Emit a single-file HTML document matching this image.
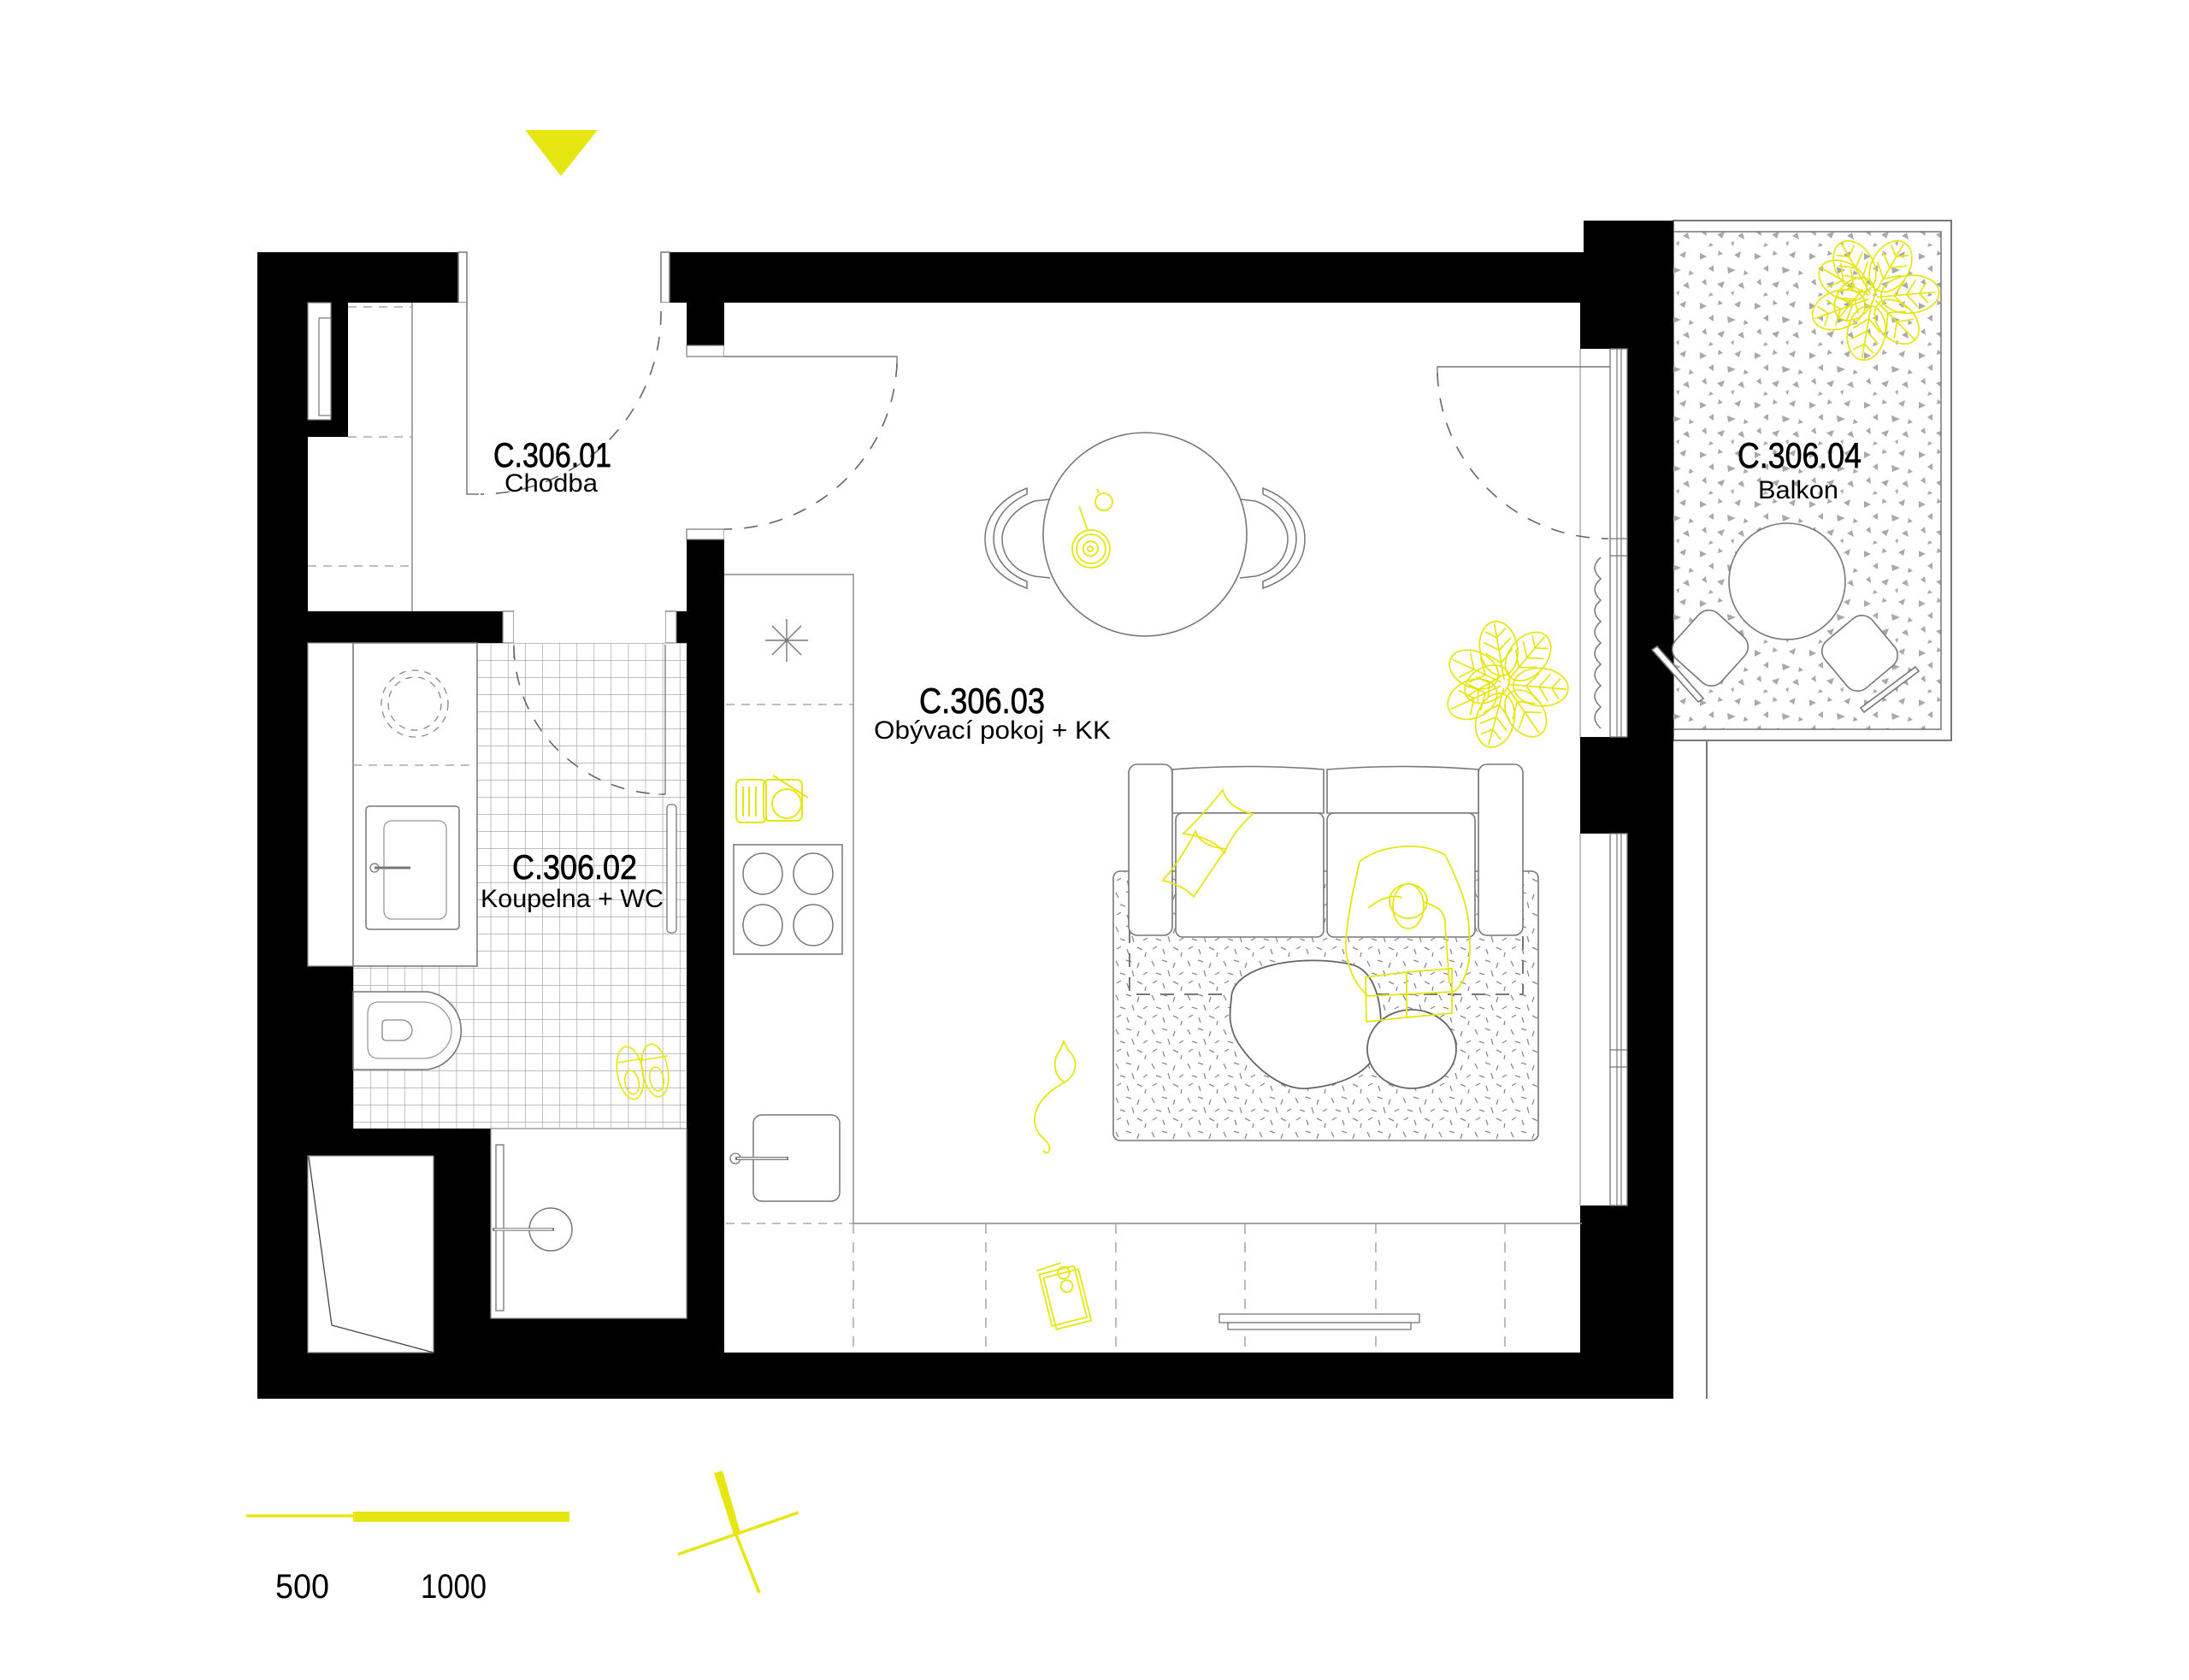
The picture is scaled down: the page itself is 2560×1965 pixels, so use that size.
<!DOCTYPE html>
<html><head><meta charset="utf-8"><style>
html,body{margin:0;padding:0;background:#fff;}
svg{display:block;}
text{font-family:"Liberation Sans",Arial,sans-serif;fill:#000;}
</style></head><body>
<svg width="2560" height="1965" viewBox="0 0 2560 1965" xmlns="http://www.w3.org/2000/svg">
<defs>
<pattern id="tri" x="0" y="0" width="64" height="58" patternUnits="userSpaceOnUse">
<g fill="#a9a9a9">
<polygon points="4,6 12,10 4,14"/><polygon points="26,3 31,7 25,9"/><polygon points="44,8 52,4 50,12"/>
<polygon points="14,24 20,20 20,28"/><polygon points="36,22 46,26 37,30"/><polygon points="56,26 61,30 55,32"/>
<polygon points="6,40 11,36 12,44"/><polygon points="24,42 33,39 30,47"/><polygon points="48,44 54,40 56,48"/>
<polygon points="40,52 44,50 43,56"/><polygon points="16,52 20,55 14,57"/>
</g></pattern>
<pattern id="dash" x="0" y="0" width="42" height="40" patternUnits="userSpaceOnUse">
<g stroke="#8a8a8a" stroke-width="1.3">
<line x1="3" y1="4" x2="6" y2="10"/><line x1="15" y1="3" x2="21" y2="5"/><line x1="30" y1="6" x2="28" y2="12"/>
<line x1="8" y1="18" x2="14" y2="20"/><line x1="22" y1="15" x2="24" y2="22"/><line x1="35" y1="20" x2="40" y2="17"/>
<line x1="4" y1="30" x2="9" y2="27"/><line x1="16" y1="30" x2="18" y2="36"/><line x1="28" y1="28" x2="34" y2="31"/>
<line x1="38" y1="34" x2="37" y2="39"/>
</g></pattern>
<pattern id="tile" x="413" y="752" width="20.1" height="20" patternUnits="userSpaceOnUse">
<rect width="20.1" height="20" fill="#fff"/>
<path d="M0,0 V20 M0,0 H20.1" stroke="#9a9a9a" stroke-width="1.2" fill="none"/>
</pattern>
</defs>

<polygon points="614,152 699,152 656,206" fill="#e6e612"/>

<rect x="1957" y="258" width="325" height="608" fill="#fff" stroke="#777" stroke-width="2"/>
<rect x="1903" y="271" width="367" height="582" fill="url(#tri)" stroke="#777" stroke-width="1.5"/>
<line x1="1996" y1="866" x2="1996" y2="1636" stroke="#777" stroke-width="2"/>

<rect x="301" y="295" width="1656" height="1341" fill="#000"/>
<rect x="1852" y="258" width="105" height="120" fill="#000"/>

<rect x="546" y="290" width="227" height="66" fill="#fff"/>
<rect x="536" y="295" width="10" height="59" fill="#fff" stroke="#777" stroke-width="1.5"/>
<rect x="773" y="295" width="10" height="59" fill="#fff" stroke="#777" stroke-width="1.5"/>

<rect x="360" y="354" width="443" height="361" fill="#fff"/>
<rect x="800" y="417" width="50" height="202" fill="#fff"/>
<rect x="360" y="354" width="47" height="157" fill="#000"/>
<rect x="360" y="354" width="27" height="137" fill="#fff" stroke="#777" stroke-width="1.2"/>
<rect x="373" y="372" width="14" height="114" fill="#fff" stroke="#777" stroke-width="1.2"/>
<rect x="803" y="354" width="44" height="50" fill="#000"/>
<rect x="803" y="404" width="44" height="13" fill="#fff" stroke="#777" stroke-width="1.2"/>
<rect x="803" y="619" width="44" height="12" fill="#fff" stroke="#777" stroke-width="1.2"/>
<line x1="482" y1="354" x2="482" y2="715" stroke="#888" stroke-width="1.5"/>
<g stroke="#999" stroke-width="1.3" stroke-dasharray="10 8">
<line x1="407" y1="359" x2="482" y2="359"/><line x1="407" y1="511" x2="482" y2="511"/><line x1="360" y1="662" x2="482" y2="662"/>
</g>
<polyline points="546,354 546,578 560,578" fill="none" stroke="#777" stroke-width="1.5"/>
<path d="M773,364 A212,212 0 0 1 562,578" fill="none" stroke="#666" stroke-width="1.6" stroke-dasharray="16 14"/>

<rect x="360" y="715" width="228" height="37" fill="#000"/>
<rect x="588" y="715" width="13" height="37" fill="#fff" stroke="#777" stroke-width="1.2"/>
<rect x="778" y="715" width="13" height="37" fill="#fff" stroke="#777" stroke-width="1.2"/>
<rect x="601" y="715" width="177" height="37" fill="#fff"/>

<rect x="413" y="752" width="390" height="568" fill="url(#tile)"/>
<rect x="360" y="752" width="53" height="378" fill="#fff" stroke="#888" stroke-width="1.2"/>
<rect x="413" y="752" width="145" height="378" fill="#fff" stroke="#777" stroke-width="1.5"/>
<circle cx="485" cy="823" r="39" fill="none" stroke="#888" stroke-width="1.3" stroke-dasharray="8 7"/>
<circle cx="485" cy="823" r="31" fill="none" stroke="#888" stroke-width="1.3" stroke-dasharray="8 7"/>
<line x1="413" y1="895" x2="558" y2="895" stroke="#999" stroke-width="1.3" stroke-dasharray="10 8"/>
<rect x="428" y="943" width="109" height="144" rx="4" fill="#fff" stroke="#777" stroke-width="1.5"/>
<rect x="449" y="960" width="73" height="115" rx="9" fill="#fff" stroke="#999" stroke-width="1.3"/>
<circle cx="438" cy="1015" r="5" fill="none" stroke="#777" stroke-width="1.3"/>
<line x1="438" y1="1015" x2="480" y2="1015" stroke="#777" stroke-width="3"/>
<path d="M413,1160 H500 A46,46 0 0 1 500,1251 H413 Z" fill="#fff" stroke="#777" stroke-width="1.6"/>
<path d="M443,1172 H495 A33,33 0 0 1 495,1238 H443 Q430,1238 430,1224 V1186 Q430,1172 443,1172 Z" fill="none" stroke="#999" stroke-width="1.3"/>
<path d="M452,1193 H470 A12,12 0 0 1 470,1217 H452 Q447,1217 447,1212 V1198 Q447,1193 452,1193 Z" fill="none" stroke="#888" stroke-width="1.3"/>
<line x1="601" y1="754" x2="601" y2="770" stroke="#777" stroke-width="1.3"/>
<path d="M601,756 A177,175 0 0 0 778,929" fill="none" stroke="#666" stroke-width="1.6" stroke-dasharray="16 14"/>
<polyline points="770,929 778,929 778,754" fill="none" stroke="#777" stroke-width="1.3"/>
<rect x="780" y="941" width="11" height="150" rx="4" fill="#fff" stroke="#777" stroke-width="1.3"/>
<g fill="none" stroke="#e6e612" stroke-width="1.6">
<ellipse cx="737" cy="1255" rx="15" ry="31" transform="rotate(-10 737 1255)"/>
<ellipse cx="766" cy="1252" rx="15" ry="31" transform="rotate(-10 766 1252)"/>
<ellipse cx="739" cy="1266" rx="8" ry="14" transform="rotate(-10 739 1266)"/>
<ellipse cx="768" cy="1262" rx="8" ry="14" transform="rotate(-10 768 1262)"/>
<line x1="722" y1="1243" x2="752" y2="1238"/><line x1="751" y1="1240" x2="781" y2="1235"/>
</g>

<rect x="360" y="1352" width="147" height="230" fill="#fff" stroke="#888" stroke-width="1.2"/>
<polyline points="361,1353 388,1550 507,1582" fill="none" stroke="#444" stroke-width="1.3"/>
<rect x="574" y="1320" width="229" height="222" fill="#fff" stroke="#888" stroke-width="1.2"/>
<rect x="580" y="1339" width="9" height="194" fill="#fff" stroke="#777" stroke-width="1.3"/>
<circle cx="644" cy="1438" r="25" fill="#fff" stroke="#777" stroke-width="1.5"/>
<line x1="576" y1="1438" x2="648" y2="1438" stroke="#777" stroke-width="3.5"/>
<line x1="578" y1="1438" x2="646" y2="1438" stroke="#fff" stroke-width="1.5"/>

<rect x="847" y="354" width="1001" height="1228" fill="#fff"/>
<rect x="1848" y="408" width="35" height="454" fill="#fff"/>
<rect x="1848" y="975" width="35" height="435" fill="#fff"/>
<rect x="1883" y="408" width="20" height="454" fill="#fff" stroke="#777" stroke-width="1.3"/>
<line x1="1891" y1="408" x2="1891" y2="862" stroke="#777" stroke-width="1.2"/>
<line x1="1896" y1="408" x2="1896" y2="862" stroke="#777" stroke-width="1.2"/>
<line x1="1883" y1="630" x2="1903" y2="630" stroke="#777" stroke-width="1.2"/>
<line x1="1883" y1="650" x2="1903" y2="650" stroke="#777" stroke-width="1.2"/>
<rect x="1883" y="975" width="20" height="435" fill="#fff" stroke="#777" stroke-width="1.3"/>
<line x1="1891" y1="975" x2="1891" y2="1410" stroke="#777" stroke-width="1.2"/>
<line x1="1896" y1="975" x2="1896" y2="1410" stroke="#777" stroke-width="1.2"/>
<line x1="1883" y1="1228" x2="1903" y2="1228" stroke="#777" stroke-width="1.2"/>
<line x1="1883" y1="1248" x2="1903" y2="1248" stroke="#777" stroke-width="1.2"/>
<line x1="1848" y1="408" x2="1848" y2="862" stroke="#999" stroke-width="1.2"/>
<line x1="1848" y1="975" x2="1848" y2="1410" stroke="#999" stroke-width="1.2"/>

<polyline points="847,417 1049,417 1049,430" fill="none" stroke="#777" stroke-width="1.4"/>
<path d="M1049,425 A202,202 0 0 1 847,619" fill="none" stroke="#666" stroke-width="1.6" stroke-dasharray="16 14"/>
<polyline points="1681,440 1681,429 1883,429" fill="none" stroke="#777" stroke-width="1.4"/>
<path d="M1681,436 A200,200 0 0 0 1881,630" fill="none" stroke="#666" stroke-width="1.6" stroke-dasharray="16 14"/>
<path d="M1872,652 q-14,12 0,25 q-14,12 0,25 q-14,12 0,25 q-14,12 0,25 q-14,12 0,25 q-14,12 0,25 q-14,12 0,25 q-14,12 0,25" fill="none" stroke="#777" stroke-width="1.5"/>

<polyline points="847,672 998,672 998,1431" fill="none" stroke="#888" stroke-width="1.4"/>
<line x1="849" y1="824" x2="998" y2="824" stroke="#999" stroke-width="1.3" stroke-dasharray="10 8"/>
<g stroke="#777" stroke-width="1.4">
<line x1="895" y1="749" x2="945" y2="749"/><line x1="920" y1="724" x2="920" y2="774"/>
<line x1="903" y1="732" x2="937" y2="766"/><line x1="937" y1="732" x2="903" y2="766"/>
</g>
<rect x="858" y="988" width="127" height="128" fill="#fff" stroke="#777" stroke-width="1.5"/>
<g fill="none" stroke="#777" stroke-width="1.5">
<ellipse cx="892" cy="1022" rx="23" ry="24"/><ellipse cx="951" cy="1022" rx="23" ry="24"/>
<ellipse cx="892" cy="1082" rx="23" ry="24"/><ellipse cx="951" cy="1082" rx="23" ry="24"/>
</g>
<rect x="881" y="1304" width="101" height="101" rx="10" fill="#fff" stroke="#777" stroke-width="1.5"/>
<circle cx="860" cy="1355" r="6" fill="#fff" stroke="#777" stroke-width="1.3"/>
<line x1="860" y1="1355" x2="922" y2="1355" stroke="#777" stroke-width="4"/>
<line x1="862" y1="1355" x2="920" y2="1355" stroke="#fff" stroke-width="1.6"/>
<g fill="none" stroke="#e6e612" stroke-width="2">
<rect x="861" y="912" width="35" height="50" rx="6"/>
<line x1="869" y1="920" x2="869" y2="955"/><line x1="876" y1="920" x2="876" y2="955"/><line x1="884" y1="920" x2="884" y2="955"/>
<rect x="893" y="912" width="45" height="48" rx="6"/>
<circle cx="920" cy="940" r="17"/>
<line x1="904" y1="907" x2="945" y2="933"/>
</g>

<line x1="998" y1="1431" x2="1850" y2="1431" stroke="#888" stroke-width="1.4"/>
<line x1="849" y1="1431" x2="998" y2="1431" stroke="#999" stroke-width="1.3" stroke-dasharray="10 8"/>
<g stroke="#999" stroke-width="1.3" stroke-dasharray="12 10">
<line x1="998" y1="1431" x2="998" y2="1582"/><line x1="1153" y1="1431" x2="1153" y2="1582"/>
<line x1="1305" y1="1431" x2="1305" y2="1582"/><line x1="1456" y1="1431" x2="1456" y2="1582"/>
<line x1="1609" y1="1431" x2="1609" y2="1582"/><line x1="1760" y1="1431" x2="1760" y2="1582"/>
</g>
<rect x="1426" y="1537" width="234" height="10" fill="#fff" stroke="#777" stroke-width="1.3"/>
<rect x="1436" y="1547" width="214" height="8" fill="#fff" stroke="#777" stroke-width="1.3"/>
<g fill="none" stroke="#e6e612" stroke-width="1.8" transform="rotate(-14 1242 1515)">
<rect x="1222" y="1485" width="42" height="62"/><rect x="1226" y="1490" width="42" height="62"/>
<circle cx="1250" cy="1490" r="7"/><circle cx="1250" cy="1506" r="7"/><line x1="1220" y1="1480" x2="1250" y2="1478"/>
</g>

<g fill="#fff" stroke="#777" stroke-width="1.5">
<path d="M1201,571 C1165,585 1152,610 1152,630 C1152,655 1165,675 1201,688 L1201,680 C1175,670 1162,650 1162,630 C1162,610 1175,590 1201,578 Z"/>
<path d="M1228,584 L1210,586 C1185,595 1172,615 1172,630 C1172,650 1185,668 1210,674 L1228,676"/>
</g>
<g fill="#fff" stroke="#777" stroke-width="1.5" transform="translate(2678,0) scale(-1,1)">
<path d="M1201,571 C1165,585 1152,610 1152,630 C1152,655 1165,675 1201,688 L1201,680 C1175,670 1162,650 1162,630 C1162,610 1175,590 1201,578 Z"/>
<path d="M1228,584 L1210,586 C1185,595 1172,615 1172,630 C1172,650 1185,668 1210,674 L1228,676"/>
</g>
<circle cx="1339" cy="625" r="119" fill="#fff" stroke="#777" stroke-width="1.6"/>
<g fill="none" stroke="#e6e612" stroke-width="1.8">
<circle cx="1291" cy="587" r="10"/><line x1="1285" y1="577" x2="1283" y2="572"/>
<circle cx="1276" cy="642" r="22"/><circle cx="1276" cy="642" r="17"/>
<path d="M1269,636 q7,-6 13,0 q5,6 -1,12 q-6,5 -12,0 q-5,-6 0,-12z"/><circle cx="1275" cy="642" r="3"/>
<line x1="1272" y1="620" x2="1262" y2="592"/>
</g>

<g fill="none" stroke="#e6e612" stroke-width="1.7">
<g transform="translate(1760,800)">
<g transform="rotate(-100)"><ellipse cx="42" cy="0" rx="32" ry="22"/><path d="M5,0 H72 M25,0 l14,-16 M25,0 l14,16 M40,0 l12,-16 M40,0 l12,16 M55,0 l9,-12 M55,0 l9,12"/></g>
<g transform="rotate(-50)"><ellipse cx="42" cy="0" rx="32" ry="22"/><path d="M5,0 H72 M25,0 l14,-16 M25,0 l14,16 M40,0 l12,-16 M40,0 l12,16 M55,0 l9,-12 M55,0 l9,12"/></g>
<g transform="rotate(5)"><ellipse cx="42" cy="0" rx="32" ry="22"/><path d="M5,0 H72 M25,0 l14,-16 M25,0 l14,16 M40,0 l12,-16 M40,0 l12,16 M55,0 l9,-12 M55,0 l9,12"/></g>
<g transform="rotate(55)"><ellipse cx="42" cy="0" rx="30" ry="21"/><path d="M5,0 H70 M25,0 l14,-16 M25,0 l14,16 M40,0 l12,-16 M40,0 l12,16"/></g>
<g transform="rotate(105)"><ellipse cx="44" cy="0" rx="32" ry="22"/><path d="M5,0 H74 M25,0 l14,-16 M25,0 l14,16 M40,0 l12,-16 M40,0 l12,16 M55,0 l9,-12 M55,0 l9,12"/></g>
<g transform="rotate(155)"><ellipse cx="42" cy="0" rx="30" ry="22"/><path d="M5,0 H70 M25,0 l14,-16 M25,0 l14,16 M40,0 l12,-16 M40,0 l12,16"/></g>
<g transform="rotate(205)"><ellipse cx="40" cy="0" rx="30" ry="21"/><path d="M5,0 H68 M25,0 l14,-16 M25,0 l14,16 M40,0 l12,-16 M40,0 l12,16"/></g>
<g transform="rotate(150)"><ellipse cx="18" cy="10" rx="28" ry="20"/><path d="M0,10 H45 M15,10 l10,-14 M15,10 l10,14 M30,10 l8,-12 M30,10 l8,12"/></g>
</g>
</g>
<g fill="none" stroke="#e6e612" stroke-width="1.7" transform="translate(2190,348)">
<g transform="rotate(-120)"><ellipse cx="42" cy="0" rx="32" ry="22"/><path d="M5,0 H72 M25,0 l14,-16 M25,0 l14,16 M40,0 l12,-16 M40,0 l12,16 M55,0 l9,-12 M55,0 l9,12"/></g>
<g transform="rotate(-60)"><ellipse cx="42" cy="0" rx="32" ry="22"/><path d="M5,0 H72 M25,0 l14,-16 M25,0 l14,16 M40,0 l12,-16 M40,0 l12,16 M55,0 l9,-12 M55,0 l9,12"/></g>
<g transform="rotate(-5)"><ellipse cx="44" cy="0" rx="34" ry="22"/><path d="M5,0 H74 M25,0 l14,-16 M25,0 l14,16 M40,0 l12,-16 M40,0 l12,16 M55,0 l9,-12 M55,0 l9,12"/></g>
<g transform="rotate(45)"><ellipse cx="40" cy="0" rx="30" ry="21"/><path d="M5,0 H70 M25,0 l14,-16 M25,0 l14,16 M40,0 l12,-16 M40,0 l12,16"/></g>
<g transform="rotate(100)"><ellipse cx="42" cy="0" rx="32" ry="22"/><path d="M5,0 H72 M25,0 l14,-16 M25,0 l14,16 M40,0 l12,-16 M40,0 l12,16 M55,0 l9,-12 M55,0 l9,12"/></g>
<g transform="rotate(160)"><ellipse cx="42" cy="0" rx="32" ry="22"/><path d="M5,0 H72 M25,0 l14,-16 M25,0 l14,16 M40,0 l12,-16 M40,0 l12,16 M55,0 l9,-12 M55,0 l9,12"/></g>
<g transform="rotate(210)"><ellipse cx="40" cy="0" rx="30" ry="21"/><path d="M5,0 H68 M25,0 l14,-16 M25,0 l14,16 M40,0 l12,-16 M40,0 l12,16"/></g>
<g transform="rotate(130)"><ellipse cx="15" cy="15" rx="28" ry="20"/><path d="M0,15 H45 M15,15 l10,-14 M15,15 l10,14"/></g>
</g>

<rect x="1302" y="1019" width="497" height="315" rx="8" fill="#fff" stroke="#777" stroke-width="1.6"/>
<rect x="1302" y="1019" width="497" height="315" rx="8" fill="url(#dash)"/>
<path d="M1321,1087 V1163 H1781 V1087" fill="none" stroke="#777" stroke-width="2" stroke-dasharray="16 12"/>
<g fill="#fff" stroke="#777" stroke-width="1.6">
<rect x="1320" y="894" width="51" height="200" rx="10"/>
<rect x="1729" y="894" width="52" height="200" rx="10"/>
<path d="M1371,951 V900 Q1460,893 1548,900 V951 Z"/>
<path d="M1552,951 V900 Q1640,893 1729,900 V951 Z"/>
<rect x="1375" y="951" width="173" height="145" rx="8"/>
<rect x="1552" y="951" width="173" height="145" rx="8"/>
</g>
<path d="M1440,1168 C1440,1130 1520,1115 1580,1128 C1610,1135 1618,1180 1614,1215 C1610,1258 1560,1270 1530,1273 C1500,1276 1468,1250 1448,1220 C1436,1200 1438,1185 1440,1168 Z" fill="#fff" stroke="#666" stroke-width="1.8"/>
<ellipse cx="1651" cy="1227" rx="52" ry="46" fill="#fff" stroke="#666" stroke-width="1.8"/>
<g fill="none" stroke="#e6e612" stroke-width="1.8">
<path d="M1430,924 Q1436,945 1465,952 Q1440,975 1432,998 Q1420,980 1384,975 Q1410,950 1430,924 Z"/>
<path d="M1398,972 Q1404,990 1434,993 Q1412,1025 1396,1049 Q1385,1036 1360,1030 Q1385,1000 1398,972 Z"/>
<path d="M1590,1008 C1610,990 1660,982 1690,1000 C1705,1030 1718,1060 1718,1090 C1722,1120 1715,1150 1700,1160 L1600,1165 C1582,1150 1570,1120 1575,1090 C1578,1060 1585,1030 1590,1008 Z"/>
<path d="M1600,1062 C1615,1050 1630,1046 1640,1050 M1665,1055 C1680,1060 1690,1065 1690,1080 L1695,1150"/>
<ellipse cx="1647" cy="1060" rx="18" ry="26"/><ellipse cx="1647" cy="1054" rx="22" ry="20"/>
<path d="M1597,1143 L1645,1137 L1698,1133 L1698,1185 L1645,1190 L1598,1195 Z M1645,1137 V1190"/>
<path d="M1240,1228 l4,-10 l5,10 C1260,1238 1262,1255 1245,1266 C1228,1275 1210,1290 1210,1310 C1210,1325 1220,1330 1226,1338 C1230,1346 1225,1352 1220,1346"/>
<path d="M1240,1228 C1230,1240 1232,1258 1245,1266"/>
</g>

<g fill="#fff" stroke="#777" stroke-width="1.6">
<rect x="1964" y="722" width="72" height="72" rx="16" transform="rotate(42 2000 758)"/>
<rect x="2139" y="728" width="72" height="72" rx="16" transform="rotate(-40 2175 764)"/>
<path d="M1932,760 L1986,821 L1992,817 L1938,756 Z"/>
<path d="M2176,828 L2240,780 L2244,785 L2180,833 Z"/>
<circle cx="2090" cy="680" r="68"/>
</g>

<line x1="288" y1="1773" x2="420" y2="1773" stroke="#e6e612" stroke-width="3.5"/>
<rect x="413" y="1768" width="253" height="12" fill="#e6e612"/>
<polygon points="835,1723 845,1720 866,1793 858,1795" fill="#e6e612"/>
<line x1="860" y1="1793" x2="888" y2="1863" stroke="#e6e612" stroke-width="3.5"/>
<line x1="793" y1="1818" x2="934" y2="1769" stroke="#e6e612" stroke-width="3.5"/>

<g stroke="#000" stroke-width="0.7">
<text x="577" y="546" font-size="40" textLength="138" lengthAdjust="spacingAndGlyphs">C.306.01</text>
<text x="599" y="1028" font-size="40" textLength="146" lengthAdjust="spacingAndGlyphs">C.306.02</text>
<text x="1075" y="834" font-size="42" textLength="147" lengthAdjust="spacingAndGlyphs">C.306.03</text>
<text x="2032" y="547" font-size="42" textLength="145" lengthAdjust="spacingAndGlyphs">C.306.04</text>
</g>
<text x="590" y="575" font-size="30" textLength="109" lengthAdjust="spacingAndGlyphs">Chodba</text>
<text x="562" y="1061" font-size="30" textLength="214" lengthAdjust="spacingAndGlyphs">Koupelna + WC</text>
<text x="1022" y="864" font-size="30" textLength="277" lengthAdjust="spacingAndGlyphs">Obývací pokoj + KK</text>
<text x="2056" y="583" font-size="30" textLength="94" lengthAdjust="spacingAndGlyphs">Balkon</text>
<text x="322" y="1869" font-size="40" textLength="63" lengthAdjust="spacingAndGlyphs">500</text>
<text x="492" y="1869" font-size="40" textLength="77" lengthAdjust="spacingAndGlyphs">1000</text>
</svg>
</body></html>
